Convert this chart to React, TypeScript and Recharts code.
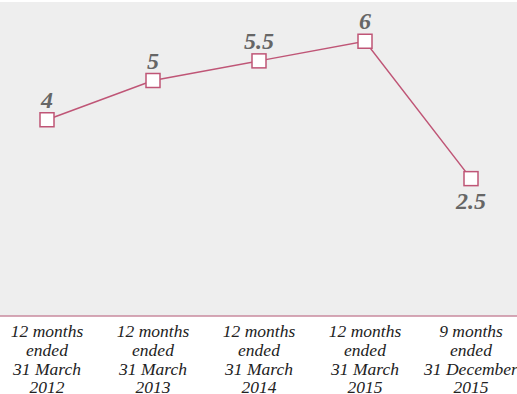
import { LineChart, Line, XAxis, YAxis, CartesianGrid, LabelList } from 'recharts'

const periods = [
  '12 months|ended|31 March|2012',
  '12 months|ended|31 March|2013',
  '12 months|ended|31 March|2014',
  '12 months|ended|31 March|2015',
  '9 months|ended|31 December|2015',
]
const values = [4, 5, 5.5, 6, 2.5]

const data = periods.map((period, i) => ({ period, value: values[i] }))

const LINE = '#bf5576'
const SERIF = '"Liberation Serif", "DejaVu Serif", serif'

const PeriodTick = ({ x, y, payload }: any) => {
  const lines = String(payload.value).split('|')
  return (
    <text x={x} y={y} textAnchor="middle" fontFamily={SERIF} fontStyle="italic" fontSize={17.5} fill="#222">
      {lines.map((line, i) => (
        <tspan key={i} x={x} dy={i === 0 ? 13 : 18.8}>
          {line}
        </tspan>
      ))}
    </text>
  )
}

const SquareDot = ({ cx, cy, index }: any) => (
  <rect key={`dot-${index}`} x={cx - 7} y={cy - 7} width={14} height={14} fill="#fff" stroke={LINE} strokeWidth={1.5} />
)

const ValueLabel = ({ x, y, value, index }: any) => {
  // the last point drops below the line, so its label sits underneath
  const below = index === values.length - 1
  return (
    <text
      x={x}
      y={below ? y + 30 : y - 12}
      textAnchor="middle"
      fontFamily={SERIF}
      fontStyle="italic"
      fontWeight="bold"
      fontSize={24}
      fill="#666"
    >
      {value}
    </text>
  )
}

export default function App() {
  return (
    <div style={{ width: 517, height: 394 }}>
      <style>{'body{margin:0;background:#fff}'}</style>
      <LineChart width={517} height={394} data={data} margin={{ top: 2, right: 0, left: 0, bottom: 0 }}>
        <CartesianGrid fill="#eeeeee" horizontal={false} vertical={false} />
        <XAxis
          dataKey="period"
          height={78}
          padding={{ left: 47, right: 46 }}
          interval={0}
          tick={<PeriodTick />}
          tickLine={false}
          axisLine={{ stroke: '#c98a9e', strokeWidth: 1.5 }}
        />
        <YAxis hide domain={[-1, 7]} />
        <Line
          type="linear"
          dataKey="value"
          stroke={LINE}
          strokeWidth={1.5}
          dot={<SquareDot />}
          activeDot={false}
          isAnimationActive={false}
        >
          <LabelList dataKey="value" content={<ValueLabel />} />
        </Line>
      </LineChart>
    </div>
  )
}
